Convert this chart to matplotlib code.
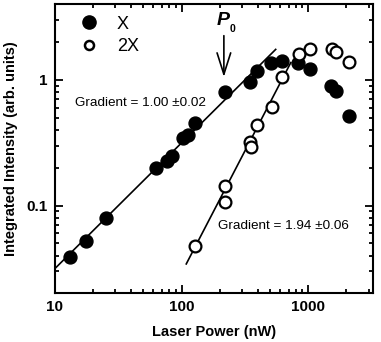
import numpy as np
import matplotlib.pyplot as plt
from matplotlib.lines import Line2D
from matplotlib.ticker import LogLocator, NullFormatter, FixedLocator, FixedFormatter

plt.rcParams['font.family'] = ['Liberation Sans', 'DejaVu Sans']

# X (filled) data
x_power = [13.1, 17.6, 25.3, 62.7, 76.2, 83.4, 103, 112.8, 127.3, 220,
           350, 391, 513, 627, 832, 1030, 1527, 1672, 2090]
x_int = [0.039, 0.0527, 0.079, 0.199, 0.228, 0.249, 0.344, 0.366, 0.453, 0.807,
         0.969, 1.18, 1.37, 1.415, 1.36, 1.22, 0.896, 0.818, 0.518]

# 2X (open) data
x2_power = [127.4, 219.6, 219.6, 346, 352, 395, 522, 622, 841, 1030, 1545, 1652, 2090]
x2_int = [0.0473, 0.144, 0.106, 0.318, 0.29, 0.44, 0.61, 1.06, 1.6, 1.75, 1.75, 1.65, 1.39]

# fits: I = a * P^k
fit1_range = [10, 554]
fit1_a, fit1_k = 0.00315, 1.00
fit2_range = [109, 729]
fit2_a, fit2_k = 10 ** -5.417, 1.94

fig = plt.figure(figsize=(3.81, 3.42), dpi=100)
ax = fig.add_axes([0.144, 0.142, 0.835, 0.846])

p1 = np.array(fit1_range)
ax.plot(p1, fit1_a * p1 ** fit1_k, color='k', lw=1.2)
p2 = np.array(fit2_range)
ax.plot(p2, fit2_a * p2 ** fit2_k, color='k', lw=1.2)

ax.plot(x_power, x_int, 'o', color='k', ms=9.3, ls='none')
ax.plot(x2_power, x2_int, 'o', mfc='white', mec='k', mew=1.6, ms=8.5, ls='none')

ax.set_xscale('log')
ax.set_yscale('log')
ax.set_xlim(10, 3250)
ax.set_ylim(0.02, 4)

ax.xaxis.set_major_locator(FixedLocator([10, 100, 1000]))
ax.xaxis.set_major_formatter(FixedFormatter(['10', '100', '1000']))
ax.xaxis.set_minor_locator(LogLocator(base=10, subs=np.arange(2, 10)))
ax.xaxis.set_minor_formatter(NullFormatter())
ax.yaxis.set_major_locator(FixedLocator([0.1, 1]))
ax.yaxis.set_major_formatter(FixedFormatter(['0.1', '1']))
ax.yaxis.set_minor_locator(LogLocator(base=10, subs=np.arange(2, 10)))
ax.yaxis.set_minor_formatter(NullFormatter())

ax.tick_params(which='both', direction='in', top=True, right=True, width=1.3)
ax.tick_params(which='major', length=6, labelsize=11, pad=5)
ax.tick_params(which='minor', length=3)
for lab in ax.get_xticklabels() + ax.get_yticklabels():
    lab.set_fontweight('bold')
for s in ax.spines.values():
    s.set_linewidth(1.5)

ax.set_xlabel('Laser Power (nW)', fontsize=10.5, fontweight='bold', labelpad=8)
ax.set_ylabel('Integrated Intensity (arb. units)', fontsize=10.5, fontweight='bold', labelpad=6)

handles = [Line2D([], [], marker='o', color='k', ls='none', ms=9.5),
           Line2D([], [], marker='o', mfc='white', mec='k', mew=1.8, ls='none', ms=6.5)]
ax.legend(handles, ['X', '2X'], loc='upper left', frameon=False, fontsize=13,
          handletextpad=0.95, borderaxespad=0.0, labelspacing=0.3, handlelength=1.2,
          bbox_to_anchor=(0.05, 0.985))

ax.text(0.063, 0.658, 'Gradient = 1.00 \u00b10.02', transform=ax.transAxes,
        fontsize=9.7, va='center')
ax.text(0.512, 0.233, 'Gradient = 1.94 \u00b10.06', transform=ax.transAxes,
        fontsize=9.7, va='center')

ax.annotate('', xy=(216, 1.0), xytext=(216, 2.36),
            arrowprops=dict(arrowstyle='->,head_length=1.1,head_width=0.35',
                            color='k', lw=1.2, mutation_scale=14))
ax.text(214, 2.55, 'P', ha='center', va='bottom', fontsize=14,
        fontweight='bold', style='italic')
ax.text(240, 2.33, '0', ha='left', va='bottom', fontsize=7.5, fontweight='bold')

fig.savefig('out.png', dpi=100)
